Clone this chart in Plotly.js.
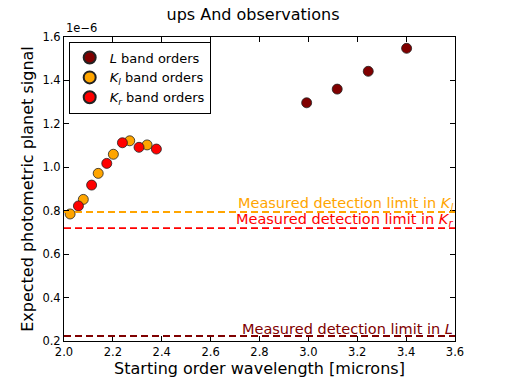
<!DOCTYPE html>
<html>
<head>
<meta charset="utf-8">
<script src="https://cdn.plot.ly/plotly-3.0.1.min.js"></script>
<style>
  html, body { margin: 0; padding: 0; background: #fff; }
  #chart { width: 506px; height: 379px; }
</style>
</head>
<body>
<div id="chart"></div>
<script>
// Wavelengths in microns, signals in units of 1e-6
const lWave = [2.993, 3.118, 3.245, 3.402];
const lSignal = [1.297, 1.360, 1.442, 1.548];

const klWave = [2.025, 2.079, 2.140, 2.202, 2.269, 2.340];
const klSignal = [0.785, 0.852, 0.972, 1.060, 1.122, 1.103];

const krWave = [2.059, 2.113, 2.175, 2.239, 2.307, 2.378];
const krSignal = [0.822, 0.918, 1.018, 1.113, 1.092, 1.084];

// Measured detection limits (1e-6)
const limitKl = 0.794;
const limitKr = 0.720;
const limitL = 0.223;

const xRange = [2.0, 3.6];
const FONT = 'DejaVu Sans, sans-serif';

function pointTrace(x, y, color, name) {
  return {
    x, y, name,
    type: 'scatter',
    mode: 'markers',
    marker: { color, size: 10, line: { color: '#222', width: 0.8 } },
  };
}

function limitShape(y, color) {
  return {
    type: 'line', xref: 'x', yref: 'y',
    x0: xRange[0], x1: xRange[1], y0: y, y1: y,
    line: { color, width: 1.8, dash: '7px,4px' },
  };
}

function limitLabel(y, color, band) {
  return {
    xref: 'x', yref: 'y', x: xRange[1], y,
    xanchor: 'right', yanchor: 'bottom', yshift: -3,
    text: 'Measured detection limit in ' + band,
    showarrow: false,
    font: { family: FONT, size: 14.5, color },
  };
}

const traces = [
  pointTrace(lWave, lSignal, '#800000', '<i>L</i> band orders'),
  pointTrace(klWave, klSignal, '#ffa500', '<i>K<sub>l</sub></i> band orders'),
  pointTrace(krWave, krSignal, '#ff0000', '<i>K<sub>r</sub></i> band orders'),
];

const axisCommon = {
  showgrid: false,
  zeroline: false,
  showline: true,
  linecolor: '#000',
  linewidth: 1,
  mirror: 'ticks',
  ticks: 'inside',
  ticklen: 5,
  tickcolor: '#000',
  tickfont: { family: FONT, size: 11.5, color: '#000' },
};

const layout = {
  width: 506,
  height: 379,
  margin: { l: 64, r: 51, t: 37, b: 38 },
  paper_bgcolor: '#fff',
  plot_bgcolor: '#fff',
  font: { family: FONT, color: '#000' },
  title: {
    text: 'ups And observations',
    font: { family: FONT, size: 16, color: '#000' },
    x: 0.5, xanchor: 'center', y: 0.978, yanchor: 'top',
  },
  xaxis: Object.assign({}, axisCommon, {
    range: xRange,
    tickvals: [2.0, 2.2, 2.4, 2.6, 2.8, 3.0, 3.2, 3.4, 3.6],
    tickformat: '.1f',
    title: { text: 'Starting order wavelength [microns]', font: { family: FONT, size: 16 }, standoff: 2 },
  }),
  yaxis: Object.assign({}, axisCommon, {
    range: [0.2, 1.6],
    tickvals: [0.2, 0.4, 0.6, 0.8, 1.0, 1.2, 1.4, 1.6],
    tickformat: '.1f',
    title: { text: 'Expected photometric planet signal', font: { family: FONT, size: 16 }, standoff: 4 },
  }),
  showlegend: true,
  legend: {
    x: 0.012, y: 0.985, xanchor: 'left', yanchor: 'top',
    bgcolor: '#fff', bordercolor: '#000', borderwidth: 1,
    font: { family: FONT, size: 13 },
    itemsizing: 'constant',
    tracegroupgap: 0,
  },
  shapes: [
    limitShape(limitKl, '#ffa500'),
    limitShape(limitKr, '#ff0000'),
    limitShape(limitL, '#800000'),
  ],
  annotations: [
    limitLabel(limitKl, '#ffa500', '<i>K<sub>l</sub></i>'),
    limitLabel(limitKr, '#ff0000', '<i>K<sub>r</sub></i>'),
    limitLabel(limitL, '#800000', '<i>L</i>'),
    {
      xref: 'paper', yref: 'paper', x: 0, y: 1,
      xanchor: 'left', yanchor: 'bottom',
      text: '1e\u22126', showarrow: false,
      font: { family: FONT, size: 11.5, color: '#000' },
    },
  ],
};

Plotly.newPlot('chart', traces, layout, { displayModeBar: false, staticPlot: true });
</script>
</body>
</html>
